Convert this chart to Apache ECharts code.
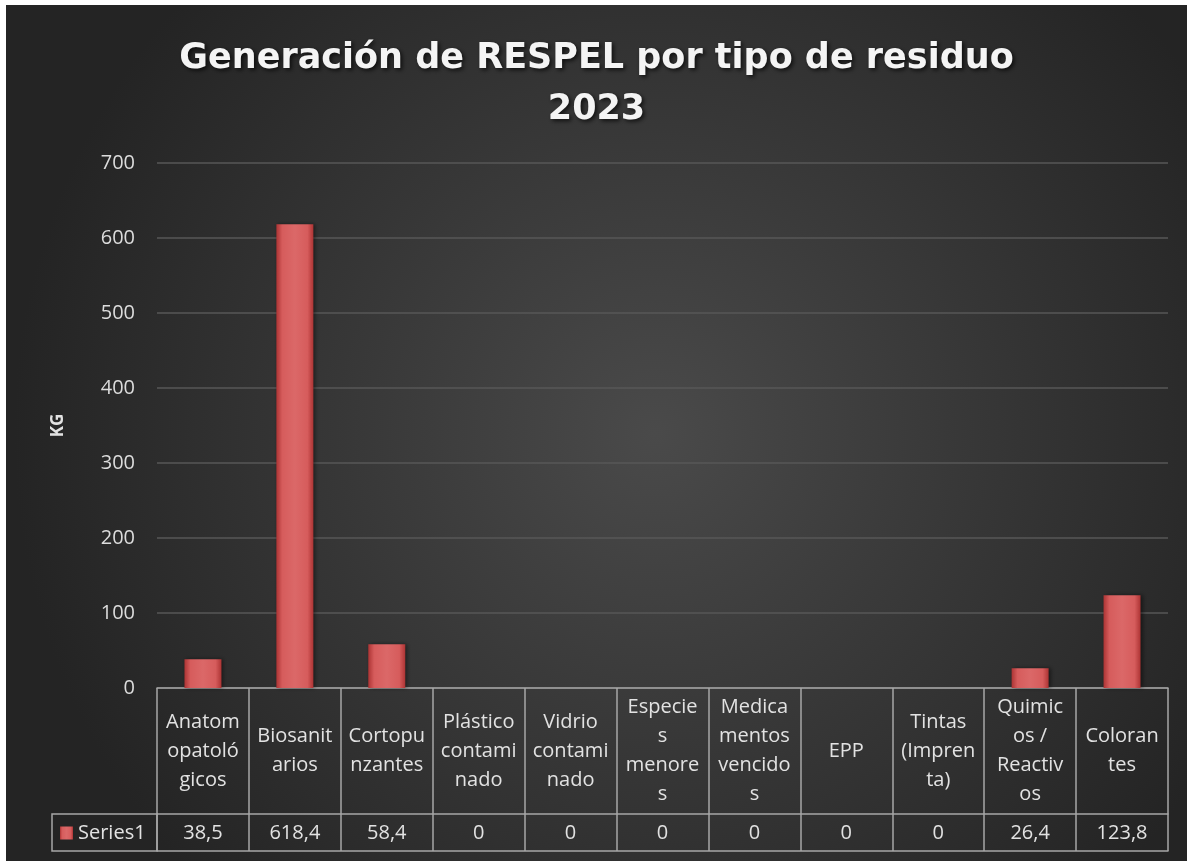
<!DOCTYPE html>
<html>
<head>
<meta charset="utf-8">
<script src="https://cdn.jsdelivr.net/npm/echarts@6/dist/echarts.min.js"></script>
<style>
  html, body { margin: 0; padding: 0; background: #ffffff; }
  #chart { position: absolute; left: 6px; top: 5px; width: 1181px; height: 856px; }
</style>
</head>
<body>
<div id="chart"></div>
<script>
// categories as named in the sheet, and the wrapped form shown in the data table
const categories = ['Anatomopatológicos', 'Biosanitarios', 'Cortopunzantes', 'Plástico contaminado',
  'Vidrio contaminado', 'Especies menores', 'Medicamentos vencidos', 'EPP', 'Tintas (Imprenta)',
  'Quimicos / Reactivos', 'Colorantes']
const categoryLabels = ['Anatom\nopatoló\ngicos', 'Biosanit\narios', 'Cortopu\nnzantes', 'Plástico\ncontami\nnado',
  'Vidrio\ncontami\nnado', 'Especie\ns\nmenore\ns', 'Medica\nmentos\nvencido\ns', 'EPP', 'Tintas\n(Impren\nta)',
  'Quimic\nos /\nReactiv\nos', 'Coloran\ntes']
const values = [38.5, 618.4, 58.4, 0, 0, 0, 0, 0, 0, 26.4, 123.8]
const yTicks = [0, 700, 100] // min, max, interval

const fmt = (v) => String(v).replace('.', ',')

const chart = echarts.init(document.getElementById('chart'))

const tableLine = { color: '#a6a6a6', width: 1.5 }
const textColor = '#e2e2e2'
const font = '"Open Sans", "Liberation Sans", sans-serif'

const option = {
  backgroundColor: new echarts.graphic.RadialGradient(0.55, 0.5, 0.75, [
    { offset: 0, color: '#4a4a4a' },
    { offset: 1, color: '#242424' }
  ]),
  title: {
    text: 'Generación de RESPEL por tipo de residuo\n2023',
    left: 'center',
    top: 28,
    padding: 0,
    textStyle: {
      fontFamily: '"DejaVu Sans", sans-serif',
      fontSize: 35,
      fontWeight: 'bold',
      color: '#f4f4f4',
      lineHeight: 51,
      textShadowColor: 'rgba(0,0,0,0.7)',
      textShadowBlur: 4,
      textShadowOffsetX: 2,
      textShadowOffsetY: 2
    }
  },
  legend: {
    data: ['Series1'],
    left: 54,
    top: 818,
    padding: 0,
    icon: 'rect',
    itemWidth: 13,
    itemHeight: 13,
    itemGap: 5,
    textStyle: { color: textColor, fontSize: 20, fontFamily: font }
  },
  grid: {
    left: 151,
    right: 19,
    top: 158,
    bottom: 173
  },
  xAxis: [
    {
      type: 'category',
      data: categories,
      position: 'bottom',
      axisLine: { show: true, lineStyle: tableLine },
      axisTick: { show: true, interval: 0, length: 163, lineStyle: tableLine },
      axisLabel: {
        interval: 0,
        margin: 63,
        verticalAlign: 'middle',
        color: textColor,
        fontSize: 20,
        lineHeight: 29,
        fontFamily: font,
        formatter: (value, index) => categoryLabels[index]
      }
    },
    {
      type: 'category',
      data: categories,
      position: 'bottom',
      offset: 126,
      axisLine: { show: true, lineStyle: tableLine },
      axisTick: { show: false },
      axisLabel: {
        interval: 0,
        margin: 19,
        verticalAlign: 'middle',
        color: textColor,
        fontSize: 20,
        fontFamily: font,
        formatter: (value, index) => fmt(values[index])
      }
    },
    {
      type: 'category',
      data: categories,
      position: 'bottom',
      offset: 163,
      axisLine: { show: true, lineStyle: tableLine },
      axisTick: { show: false },
      axisLabel: { show: false }
    }
  ],
  yAxis: {
    type: 'value',
    min: yTicks[0],
    max: yTicks[1],
    interval: yTicks[2],
    name: 'KG',
    nameLocation: 'middle',
    nameGap: 90,
    nameTextStyle: { color: '#e2e2e2', fontSize: 17, fontWeight: 'bold', fontFamily: font },
    axisLine: { show: false },
    axisTick: { show: false },
    axisLabel: { color: '#dcdcdc', fontSize: 20, margin: 22, fontFamily: font },
    splitLine: { lineStyle: { color: '#575757', width: 1.5 } }
  },
  graphic: [
    {
      type: 'rect',
      shape: { x: 46, y: 809, width: 105, height: 37 },
      style: { fill: 'none', stroke: '#a6a6a6', lineWidth: 1.5 },
      z: 10
    }
  ],
  series: [
    {
      name: 'Series1',
      type: 'bar',
      data: values,
      barWidth: 37,
      itemStyle: {
        color: new echarts.graphic.LinearGradient(0, 0, 1, 0, [
          { offset: 0, color: '#ad3434' },
          { offset: 0.16, color: '#d65c5c' },
          { offset: 0.5, color: '#db6868' },
          { offset: 0.84, color: '#d65c5c' },
          { offset: 1, color: '#ad3434' }
        ]),
        borderWidth: 0,
        shadowColor: 'rgba(0,0,0,0.45)',
        shadowBlur: 4,
        shadowOffsetX: 2,
        shadowOffsetY: 0
      }
    }
  ],
  animation: false
}

chart.setOption(option)
window.addEventListener('resize', () => chart.resize())
</script>
</body>
</html>
